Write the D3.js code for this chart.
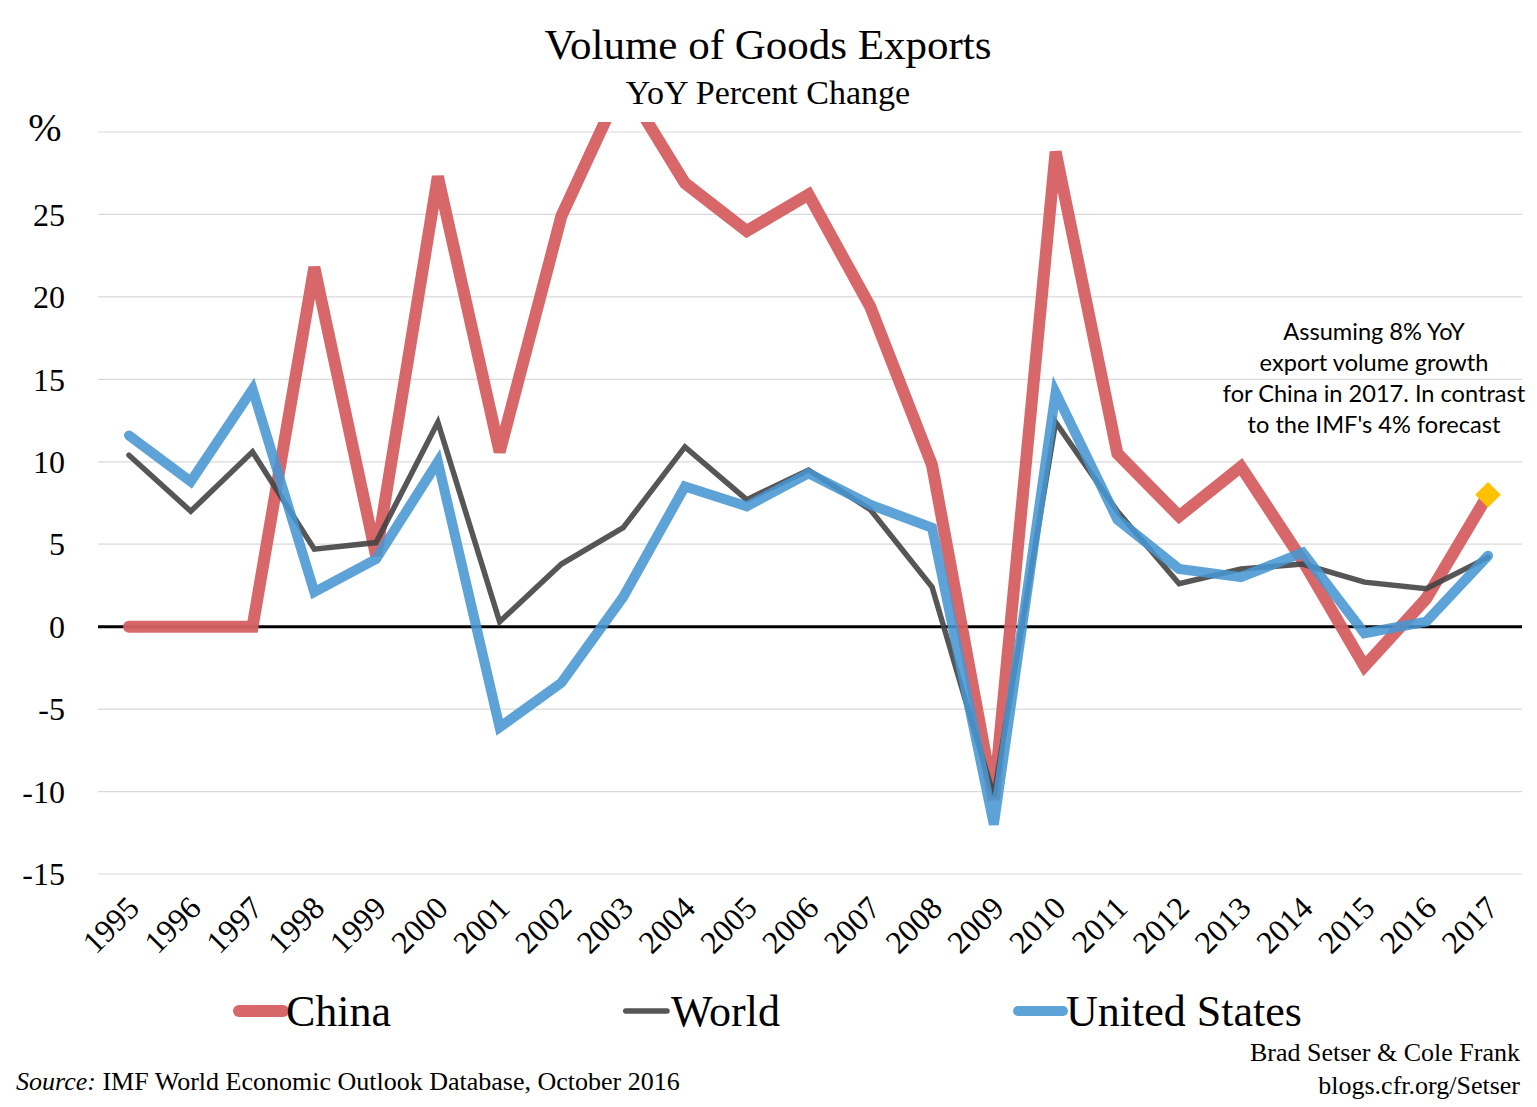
<!DOCTYPE html>
<html>
<head>
<meta charset="utf-8">
<script src="https://cdn.jsdelivr.net/npm/d3@7"></script>
<style>
  body { margin: 0; background: #fff; }
  text { fill: #000; }
</style>
</head>
<body>
<script>
// data
var years = [1995,1996,1997,1998,1999,2000,2001,2002,2003,2004,2005,2006,2007,2008,2009,2010,2011,2012,2013,2014,2015,2016,2017];
var china = [0,0,0,21.8,4.3,27.3,10.6,24.9,33,26.9,24,26.2,19.4,9.8,-10.5,28.8,10.5,6.7,9.7,4.0,-2.4,1.7,8];
var world = [10.4,7.0,10.6,4.7,5.1,12.4,0.3,3.8,6.0,10.9,7.7,9.5,7.1,2.4,-10.3,12.4,7.0,2.6,3.5,3.8,2.7,2.3,4.2];
var us = [11.6,8.8,14.4,2.1,4.1,10.0,-6.1,-3.4,1.8,8.5,7.3,9.3,7.4,6.0,-12.0,14.2,6.5,3.5,3.0,4.5,-0.4,0.3,4.3];
var yTicks = [-15,-10,-5,0,5,10,15,20,25];
var forecast = {year: 2017, value: 8};
var note = ["Assuming 8% YoY", "export volume growth", "for China in 2017. In contrast", "to the IMF's 4% forecast"];

var width = 1537, height = 1107;
var serif = "'Liberation Serif', 'DejaVu Serif', serif";

var svg = d3.select("body").append("svg")
    .attr("width", width)
    .attr("height", height);

var x = d3.scalePoint().domain(years).range([129, 1488]);
var y = d3.scaleLinear().domain([-15, 30]).range([874, 132]);

svg.append("defs").append("clipPath").attr("id", "plot")
  .append("rect").attr("x", 90).attr("y", 122).attr("width", 1440).attr("height", 800);

// grid
svg.selectAll(".grid")
    .data(yTicks.concat([30]).filter(function(d){ return d !== 0; }))
    .enter().append("line")
    .attr("x1", 98).attr("x2", 1522)
    .attr("y1", function(d){ return y(d); })
    .attr("y2", function(d){ return y(d); })
    .attr("stroke", "#d9d9d9")
    .attr("stroke-width", 1.2);

svg.append("line")
    .attr("x1", 98).attr("x2", 1522)
    .attr("y1", y(0)).attr("y2", y(0))
    .attr("stroke", "#000").attr("stroke-width", 3);

// y labels
svg.selectAll(".ylab")
    .data(yTicks)
    .enter().append("text")
    .attr("x", 65)
    .attr("y", function(d){ return y(d); })
    .attr("dy", "0.35em")
    .attr("text-anchor", "end")
    .style("font-family", serif)
    .style("font-size", "32px")
    .text(function(d){ return d; });

svg.append("text")
    .attr("x", 45).attr("y", 141)
    .attr("text-anchor", "middle")
    .style("font-family", serif)
    .style("font-size", "40px")
    .text("%");

// x labels
svg.selectAll(".xlab")
    .data(years)
    .enter().append("text")
    .attr("transform", function(d){ return "translate(" + (x(d) + 12) + ",910) rotate(-45)"; })
    .attr("text-anchor", "end")
    .style("font-family", serif)
    .style("font-size", "32px")
    .text(function(d){ return d; });

var line = d3.line()
    .x(function(d, i){ return x(years[i]); })
    .y(function(d){ return y(d); });

var g = svg.append("g").attr("clip-path", "url(#plot)");

var series = [
  {name: "China", values: china, color: "#d65f62", w: 12, op: 0.95},
  {name: "World", values: world, color: "#444444", w: 5.5, op: 0.9},
  {name: "United States", values: us, color: "#4796d1", w: 10, op: 0.88}
];

g.selectAll(".series")
    .data(series)
    .enter().append("path")
    .attr("d", function(d){ return line(d.values); })
    .attr("fill", "none")
    .attr("stroke", function(d){ return d.color; })
    .attr("stroke-width", function(d){ return d.w; })
    .attr("stroke-opacity", function(d){ return d.op; })
    .attr("stroke-linejoin", "miter")
    .attr("stroke-linecap", "round");

// forecast diamond
svg.append("path")
    .attr("d", d3.symbol().type(d3.symbolDiamond2).size(420))
    .attr("transform", "translate(" + x(forecast.year) + "," + y(forecast.value) + ")")
    .attr("fill", "#ffc000");

// annotation
svg.selectAll(".note")
    .data(note)
    .enter().append("text")
    .attr("x", 1374)
    .attr("y", function(d, i){ return 332 + i * 31; })
    .attr("dy", "0.35em")
    .attr("text-anchor", "middle")
    .style("font-family", "Lato, 'Open Sans', sans-serif")
    .style("font-size", "23.6px")
    .text(function(d){ return d; });

// titles
svg.append("text")
    .attr("x", 768).attr("y", 59)
    .attr("text-anchor", "middle")
    .style("font-family", serif)
    .style("font-size", "43px")
    .text("Volume of Goods Exports");

svg.append("text")
    .attr("x", 768).attr("y", 104)
    .attr("text-anchor", "middle")
    .style("font-family", serif)
    .style("font-size", "34px")
    .text("YoY Percent Change");

// legend
var legendX = [233, 623, 1013];
var leg = svg.selectAll(".leg")
    .data(series)
    .enter().append("g")
    .attr("transform", function(d, i){ return "translate(" + legendX[i] + ",1011)"; });

leg.append("line")
    .attr("x1", function(d){ return d.w / 2; })
    .attr("x2", function(d, i){ return i === 1 ? 44 : 50; })
    .attr("stroke", function(d){ return d.color; })
    .attr("stroke-width", function(d){ return d.w; })
    .attr("stroke-opacity", function(d){ return d.op; })
    .attr("stroke-linecap", "round");

leg.append("text")
    .attr("x", function(d, i){ return i === 1 ? 48 : 53; })
    .attr("dy", "0.35em")
    .style("font-family", serif)
    .style("font-size", "44px")
    .text(function(d){ return d.name; });

// footer
var src = svg.append("text")
    .attr("x", 16).attr("y", 1090)
    .style("font-family", serif)
    .style("font-size", "26px");
src.append("tspan").style("font-style", "italic").text("Source:");
src.append("tspan").text(" IMF World Economic Outlook Database,  October 2016");

svg.append("text")
    .attr("x", 1520).attr("y", 1061)
    .attr("text-anchor", "end")
    .style("font-family", serif)
    .style("font-size", "26px")
    .text("Brad Setser & Cole Frank");

svg.append("text")
    .attr("x", 1520).attr("y", 1094)
    .attr("text-anchor", "end")
    .style("font-family", serif)
    .style("font-size", "26px")
    .text("blogs.cfr.org/Setser");
</script>
</body>
</html>
